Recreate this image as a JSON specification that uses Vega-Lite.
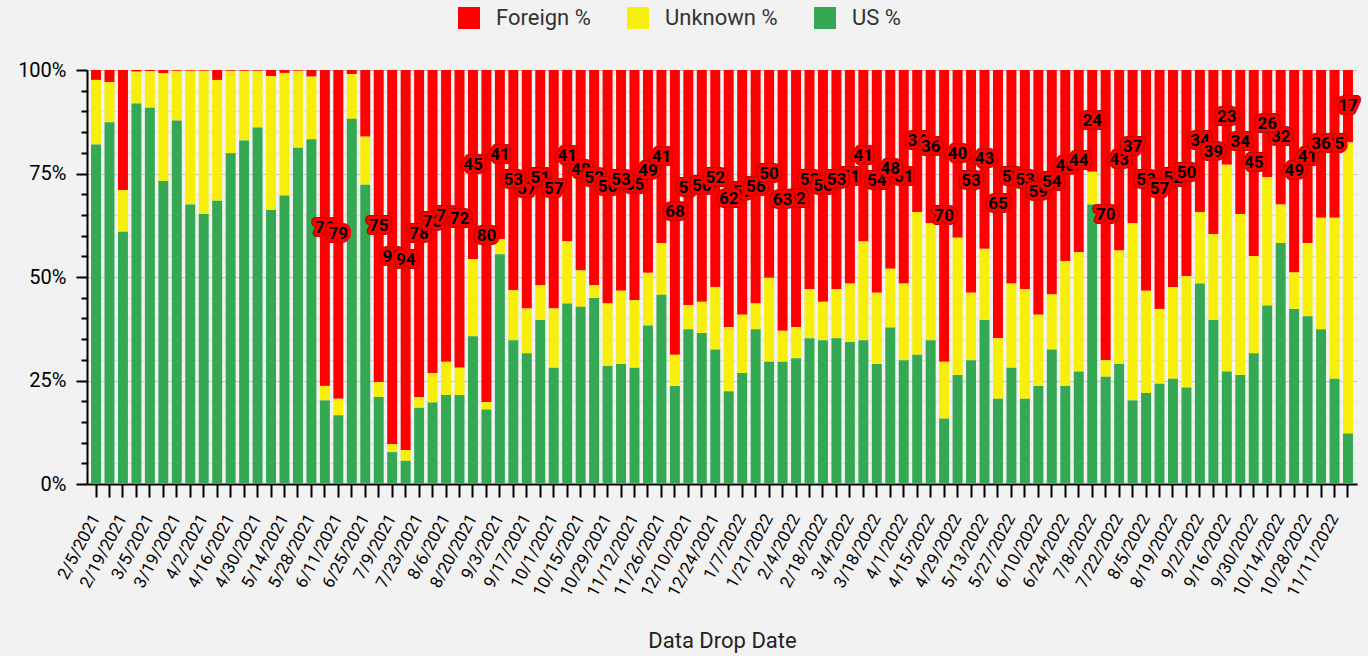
{
  "$schema": "https://vega.github.io/schema/vega-lite/v6.json",
  "width": 1270,
  "height": 414,
  "autosize": {"type": "none"},
  "padding": {"left": 87, "top": 70, "right": 11, "bottom": 172},
  "background": "#f2f2f2",
  "config": {"view": {"stroke": null}, "font": "Roboto"},
  "resolve": {"axis": {"y": "independent"}},
  "data": {"values": [
    {"date": "2/5/2021", "US": 82.0, "Unknown": 15.6, "Foreign": 2.4},
    {"date": "2/12/2021", "US": 87.4, "Unknown": 9.7, "Foreign": 2.9},
    {"date": "2/19/2021", "US": 60.9, "Unknown": 10.1, "Foreign": 29.0},
    {"date": "2/26/2021", "US": 91.9, "Unknown": 7.7, "Foreign": 0.4},
    {"date": "3/5/2021", "US": 90.9, "Unknown": 8.8, "Foreign": 0.3},
    {"date": "3/12/2021", "US": 73.2, "Unknown": 26.0, "Foreign": 0.8},
    {"date": "3/19/2021", "US": 87.8, "Unknown": 12.0, "Foreign": 0.2},
    {"date": "3/26/2021", "US": 67.5, "Unknown": 32.3, "Foreign": 0.2},
    {"date": "4/2/2021", "US": 65.2, "Unknown": 34.6, "Foreign": 0.2},
    {"date": "4/9/2021", "US": 68.4, "Unknown": 29.2, "Foreign": 2.4},
    {"date": "4/16/2021", "US": 79.9, "Unknown": 19.9, "Foreign": 0.2},
    {"date": "4/23/2021", "US": 83.0, "Unknown": 16.8, "Foreign": 0.2},
    {"date": "4/30/2021", "US": 86.1, "Unknown": 13.7, "Foreign": 0.2},
    {"date": "5/7/2021", "US": 66.2, "Unknown": 32.3, "Foreign": 1.5},
    {"date": "5/14/2021", "US": 69.7, "Unknown": 29.6, "Foreign": 0.7},
    {"date": "5/21/2021", "US": 81.2, "Unknown": 18.6, "Foreign": 0.2},
    {"date": "5/28/2021", "US": 83.3, "Unknown": 15.1, "Foreign": 1.6},
    {"date": "6/4/2021", "US": 20.2, "Unknown": 3.5, "Foreign": 76.3, "Label": 76},
    {"date": "6/11/2021", "US": 16.6, "Unknown": 4.0, "Foreign": 79.4, "Label": 79},
    {"date": "6/18/2021", "US": 88.2, "Unknown": 10.8, "Foreign": 1.0},
    {"date": "6/25/2021", "US": 72.3, "Unknown": 11.6, "Foreign": 16.1},
    {"date": "7/2/2021", "US": 21.0, "Unknown": 3.6, "Foreign": 75.4, "Label": 75},
    {"date": "7/9/2021", "US": 7.7, "Unknown": 1.9, "Foreign": 90.4, "Label": 90},
    {"date": "7/16/2021", "US": 5.6, "Unknown": 2.6, "Foreign": 91.8, "Label": 94},
    {"date": "7/23/2021", "US": 18.4, "Unknown": 2.6, "Foreign": 79.0, "Label": 78},
    {"date": "7/30/2021", "US": 19.7, "Unknown": 7.1, "Foreign": 73.2, "Label": 73},
    {"date": "8/6/2021", "US": 21.5, "Unknown": 8.0, "Foreign": 70.5, "Label": 71},
    {"date": "8/13/2021", "US": 21.5, "Unknown": 6.6, "Foreign": 71.9, "Label": 72},
    {"date": "8/20/2021", "US": 35.7, "Unknown": 18.6, "Foreign": 45.7, "Label": 45},
    {"date": "8/27/2021", "US": 18.0, "Unknown": 1.8, "Foreign": 80.2, "Label": 80},
    {"date": "9/3/2021", "US": 55.5, "Unknown": 3.6, "Foreign": 40.9, "Label": 41},
    {"date": "9/10/2021", "US": 34.7, "Unknown": 12.1, "Foreign": 53.2, "Label": 53},
    {"date": "9/17/2021", "US": 31.6, "Unknown": 10.8, "Foreign": 57.6, "Label": 57},
    {"date": "9/24/2021", "US": 39.6, "Unknown": 8.4, "Foreign": 52.0, "Label": 51},
    {"date": "10/1/2021", "US": 28.1, "Unknown": 14.3, "Foreign": 57.6, "Label": 57},
    {"date": "10/8/2021", "US": 43.6, "Unknown": 15.0, "Foreign": 41.4, "Label": 41},
    {"date": "10/15/2021", "US": 42.8, "Unknown": 8.8, "Foreign": 48.4, "Label": 48},
    {"date": "10/22/2021", "US": 44.9, "Unknown": 3.1, "Foreign": 52.0, "Label": 52},
    {"date": "10/29/2021", "US": 28.5, "Unknown": 15.1, "Foreign": 56.4, "Label": 56},
    {"date": "11/5/2021", "US": 29.0, "Unknown": 17.7, "Foreign": 53.3, "Label": 53},
    {"date": "11/12/2021", "US": 28.1, "Unknown": 16.3, "Foreign": 55.6, "Label": 55},
    {"date": "11/19/2021", "US": 38.3, "Unknown": 12.7, "Foreign": 49.0, "Label": 49},
    {"date": "11/26/2021", "US": 45.7, "Unknown": 12.5, "Foreign": 41.8, "Label": 41},
    {"date": "12/3/2021", "US": 23.7, "Unknown": 7.5, "Foreign": 68.8, "Label": 68},
    {"date": "12/10/2021", "US": 37.4, "Unknown": 5.8, "Foreign": 56.8, "Label": 57},
    {"date": "12/17/2021", "US": 36.5, "Unknown": 7.5, "Foreign": 56.0, "Label": 56},
    {"date": "12/24/2021", "US": 32.5, "Unknown": 15.1, "Foreign": 52.4, "Label": 52},
    {"date": "12/31/2021", "US": 22.4, "Unknown": 15.5, "Foreign": 62.1, "Label": 62},
    {"date": "1/7/2022", "US": 26.8, "Unknown": 14.1, "Foreign": 59.1, "Label": 59},
    {"date": "1/14/2022", "US": 37.4, "Unknown": 6.2, "Foreign": 56.4, "Label": 56},
    {"date": "1/21/2022", "US": 29.5, "Unknown": 20.3, "Foreign": 50.2, "Label": 50},
    {"date": "1/28/2022", "US": 29.5, "Unknown": 7.5, "Foreign": 63.0, "Label": 63},
    {"date": "2/4/2022", "US": 30.4, "Unknown": 7.5, "Foreign": 62.1, "Label": 62},
    {"date": "2/11/2022", "US": 35.2, "Unknown": 11.9, "Foreign": 52.9, "Label": 53},
    {"date": "2/18/2022", "US": 34.7, "Unknown": 9.3, "Foreign": 56.0, "Label": 56},
    {"date": "2/25/2022", "US": 35.2, "Unknown": 11.9, "Foreign": 52.9, "Label": 53},
    {"date": "3/4/2022", "US": 34.3, "Unknown": 14.1, "Foreign": 51.6, "Label": 51},
    {"date": "3/11/2022", "US": 34.7, "Unknown": 23.9, "Foreign": 41.4, "Label": 41},
    {"date": "3/18/2022", "US": 29.0, "Unknown": 17.2, "Foreign": 53.8, "Label": 54},
    {"date": "3/25/2022", "US": 37.8, "Unknown": 14.2, "Foreign": 48.0, "Label": 48},
    {"date": "4/1/2022", "US": 29.9, "Unknown": 18.5, "Foreign": 51.6, "Label": 51},
    {"date": "4/8/2022", "US": 31.2, "Unknown": 34.5, "Foreign": 34.3, "Label": 34},
    {"date": "4/15/2022", "US": 34.7, "Unknown": 28.3, "Foreign": 37.0, "Label": 36},
    {"date": "4/22/2022", "US": 15.8, "Unknown": 13.7, "Foreign": 70.5, "Label": 70},
    {"date": "4/29/2022", "US": 26.3, "Unknown": 33.2, "Foreign": 40.5, "Label": 40},
    {"date": "5/6/2022", "US": 29.9, "Unknown": 16.3, "Foreign": 53.8, "Label": 53},
    {"date": "5/13/2022", "US": 39.6, "Unknown": 17.2, "Foreign": 43.2, "Label": 43},
    {"date": "5/20/2022", "US": 20.6, "Unknown": 14.6, "Foreign": 64.8, "Label": 65},
    {"date": "5/27/2022", "US": 28.1, "Unknown": 20.3, "Foreign": 51.6, "Label": 52},
    {"date": "6/3/2022", "US": 20.6, "Unknown": 26.5, "Foreign": 52.9, "Label": 53},
    {"date": "6/10/2022", "US": 23.7, "Unknown": 17.2, "Foreign": 59.1, "Label": 59},
    {"date": "6/17/2022", "US": 32.5, "Unknown": 13.3, "Foreign": 54.2, "Label": 54},
    {"date": "6/24/2022", "US": 23.7, "Unknown": 30.1, "Foreign": 46.2, "Label": 46},
    {"date": "7/1/2022", "US": 27.2, "Unknown": 28.8, "Foreign": 44.0, "Label": 44},
    {"date": "7/8/2022", "US": 67.5, "Unknown": 7.9, "Foreign": 24.6, "Label": 24},
    {"date": "7/15/2022", "US": 25.9, "Unknown": 4.0, "Foreign": 70.1, "Label": 70},
    {"date": "7/22/2022", "US": 29.0, "Unknown": 27.4, "Foreign": 43.6, "Label": 43},
    {"date": "7/29/2022", "US": 20.2, "Unknown": 42.8, "Foreign": 37.0, "Label": 37},
    {"date": "8/5/2022", "US": 22.0, "Unknown": 24.7, "Foreign": 53.3, "Label": 53},
    {"date": "8/12/2022", "US": 24.2, "Unknown": 18.1, "Foreign": 57.7, "Label": 57},
    {"date": "8/19/2022", "US": 25.4, "Unknown": 22.2, "Foreign": 52.4, "Label": 52},
    {"date": "8/26/2022", "US": 23.3, "Unknown": 26.9, "Foreign": 49.8, "Label": 50},
    {"date": "9/2/2022", "US": 48.4, "Unknown": 17.3, "Foreign": 34.3, "Label": 34},
    {"date": "9/9/2022", "US": 39.6, "Unknown": 20.8, "Foreign": 39.6, "Label": 39},
    {"date": "9/16/2022", "US": 27.2, "Unknown": 49.9, "Foreign": 22.9, "Label": 23},
    {"date": "9/23/2022", "US": 26.3, "Unknown": 38.9, "Foreign": 34.8, "Label": 34},
    {"date": "9/30/2022", "US": 31.6, "Unknown": 23.5, "Foreign": 44.9, "Label": 45},
    {"date": "10/7/2022", "US": 43.1, "Unknown": 31.0, "Foreign": 25.9, "Label": 26},
    {"date": "10/14/2022", "US": 58.2, "Unknown": 9.3, "Foreign": 32.5, "Label": 32},
    {"date": "10/21/2022", "US": 42.3, "Unknown": 8.8, "Foreign": 48.9, "Label": 49},
    {"date": "10/28/2022", "US": 40.5, "Unknown": 17.7, "Foreign": 41.8, "Label": 41},
    {"date": "11/4/2022", "US": 37.4, "Unknown": 26.9, "Foreign": 35.7, "Label": 36},
    {"date": "11/11/2022", "US": 25.4, "Unknown": 38.9, "Foreign": 35.7, "Label": 35},
    {"date": "11/18/2022", "US": 12.2, "Unknown": 70.3, "Foreign": 17.5, "Label": 17}
  ]},
  "transform": [{"window": [{"op": "row_number", "as": "idx"}]}],
  "encoding": {
    "x": {
      "field": "date", "type": "ordinal", "sort": null,
      "scale": {"paddingInner": 0.26, "paddingOuter": 0.3},
      "axis": {
        "title": "Data Drop Date", "titleFontSize": 22, "titleFontWeight": "normal", "titleColor": "#222",
        "titleY": 156, "titleBaseline": "middle",
        "labelAngle": -62, "labelFontSize": 17, "labelColor": "#000", "labelPadding": 18,
        "labelOverlap": false,
        "labelExpr": "round((toDate(datum.value) - toDate('2/5/2021')) / 604800000) % 2 == 0 ? datum.value : ''",
        "tickColor": "#000", "tickWidth": 2, "tickSize": 13,
        "domainColor": "#000", "domainWidth": 2, "grid": false
      }
    }
  },
  "layer": [
    {
      "transform": [
        {"fold": ["Foreign", "Unknown", "US"], "as": ["series", "pct"]},
        {"calculate": "indexof(['US', 'Unknown', 'Foreign'], datum.series)", "as": "ord"}
      ],
      "mark": {"type": "bar"},
      "encoding": {
        "y": {
          "field": "pct", "type": "quantitative", "stack": "zero", "title": null,
          "scale": {"domain": [0, 100], "nice": false},
          "axis": {
            "values": [0, 5, 10, 15, 20, 25, 30, 35, 40, 45, 50, 55, 60, 65, 70, 75, 80, 85, 90, 95, 100],
            "labelExpr": "datum.value % 25 == 0 ? datum.value + '%' : ''",
            "labelOverlap": false, "labelBound": false, "labelFlush": false,
            "labelFontSize": 20, "labelColor": "#000", "labelPadding": 10,
            "tickColor": "#000", "tickWidth": 2,
            "tickSize": {"condition": {"test": "datum.value % 25 == 0", "value": 11}, "value": 6},
            "domainColor": "#000", "domainWidth": 2,
            "gridColor": {"condition": {"test": "datum.value % 25 == 0", "value": "#c4c4c4"}, "value": "#e0e0e0"},
            "gridWidth": 1
          }
        },
        "color": {
          "field": "series", "type": "nominal",
          "scale": {"domain": ["Foreign", "Unknown", "US"], "range": ["#ff0000", "#f7ee0c", "#34a853"]},
          "legend": {
            "title": null, "orient": "none", "direction": "horizontal",
            "legendX": 371, "legendY": -63,
            "symbolType": "square", "symbolSize": 484, "symbolStrokeWidth": 0,
            "labelFontSize": 22, "labelColor": "#333", "labelOffset": 16,
            "columnPadding": 36,
            "labelExpr": "datum.label + ' %'"
          }
        },
        "order": {"field": "ord", "type": "quantitative"}
      }
    },
    {"transform": [{"filter": "isValid(datum.Label) && (datum.idx - 1) % 4 == 0"}, {"calculate": "100 - datum.Foreign / 2", "as": "mid"}],
     "layer": [
      {"mark": {"type": "text", "fontSize": 17, "fontWeight": "bold", "fill": "#c40000", "stroke": "#c40000", "strokeWidth": 8, "strokeJoin": "round", "baseline": "middle"},
       "encoding": {"y": {"field": "mid", "type": "quantitative", "axis": null}, "text": {"field": "Label"}}},
      {"mark": {"type": "text", "fontSize": 17, "fontWeight": "bold", "fill": "#ff0000", "stroke": "#ff0000", "strokeWidth": 6, "strokeJoin": "round", "baseline": "middle"},
       "encoding": {"y": {"field": "mid", "type": "quantitative", "axis": null}, "text": {"field": "Label"}}},
      {"mark": {"type": "text", "fontSize": 17, "fontWeight": "bold", "fill": "#000000", "baseline": "middle"},
       "encoding": {"y": {"field": "mid", "type": "quantitative", "axis": null}, "text": {"field": "Label"}}}
     ]},
    {"transform": [{"filter": "isValid(datum.Label) && (datum.idx - 1) % 4 == 1"}, {"calculate": "100 - datum.Foreign / 2", "as": "mid"}],
     "layer": [
      {"mark": {"type": "text", "fontSize": 17, "fontWeight": "bold", "fill": "#c40000", "stroke": "#c40000", "strokeWidth": 8, "strokeJoin": "round", "baseline": "middle"},
       "encoding": {"y": {"field": "mid", "type": "quantitative", "axis": null}, "text": {"field": "Label"}}},
      {"mark": {"type": "text", "fontSize": 17, "fontWeight": "bold", "fill": "#ff0000", "stroke": "#ff0000", "strokeWidth": 6, "strokeJoin": "round", "baseline": "middle"},
       "encoding": {"y": {"field": "mid", "type": "quantitative", "axis": null}, "text": {"field": "Label"}}},
      {"mark": {"type": "text", "fontSize": 17, "fontWeight": "bold", "fill": "#000000", "baseline": "middle"},
       "encoding": {"y": {"field": "mid", "type": "quantitative", "axis": null}, "text": {"field": "Label"}}}
     ]},
    {"transform": [{"filter": "isValid(datum.Label) && (datum.idx - 1) % 4 == 2"}, {"calculate": "100 - datum.Foreign / 2", "as": "mid"}],
     "layer": [
      {"mark": {"type": "text", "fontSize": 17, "fontWeight": "bold", "fill": "#c40000", "stroke": "#c40000", "strokeWidth": 8, "strokeJoin": "round", "baseline": "middle"},
       "encoding": {"y": {"field": "mid", "type": "quantitative", "axis": null}, "text": {"field": "Label"}}},
      {"mark": {"type": "text", "fontSize": 17, "fontWeight": "bold", "fill": "#ff0000", "stroke": "#ff0000", "strokeWidth": 6, "strokeJoin": "round", "baseline": "middle"},
       "encoding": {"y": {"field": "mid", "type": "quantitative", "axis": null}, "text": {"field": "Label"}}},
      {"mark": {"type": "text", "fontSize": 17, "fontWeight": "bold", "fill": "#000000", "baseline": "middle"},
       "encoding": {"y": {"field": "mid", "type": "quantitative", "axis": null}, "text": {"field": "Label"}}}
     ]},
    {"transform": [{"filter": "isValid(datum.Label) && (datum.idx - 1) % 4 == 3"}, {"calculate": "100 - datum.Foreign / 2", "as": "mid"}],
     "layer": [
      {"mark": {"type": "text", "fontSize": 17, "fontWeight": "bold", "fill": "#c40000", "stroke": "#c40000", "strokeWidth": 8, "strokeJoin": "round", "baseline": "middle"},
       "encoding": {"y": {"field": "mid", "type": "quantitative", "axis": null}, "text": {"field": "Label"}}},
      {"mark": {"type": "text", "fontSize": 17, "fontWeight": "bold", "fill": "#ff0000", "stroke": "#ff0000", "strokeWidth": 6, "strokeJoin": "round", "baseline": "middle"},
       "encoding": {"y": {"field": "mid", "type": "quantitative", "axis": null}, "text": {"field": "Label"}}},
      {"mark": {"type": "text", "fontSize": 17, "fontWeight": "bold", "fill": "#000000", "baseline": "middle"},
       "encoding": {"y": {"field": "mid", "type": "quantitative", "axis": null}, "text": {"field": "Label"}}}
     ]}
  ]
}
